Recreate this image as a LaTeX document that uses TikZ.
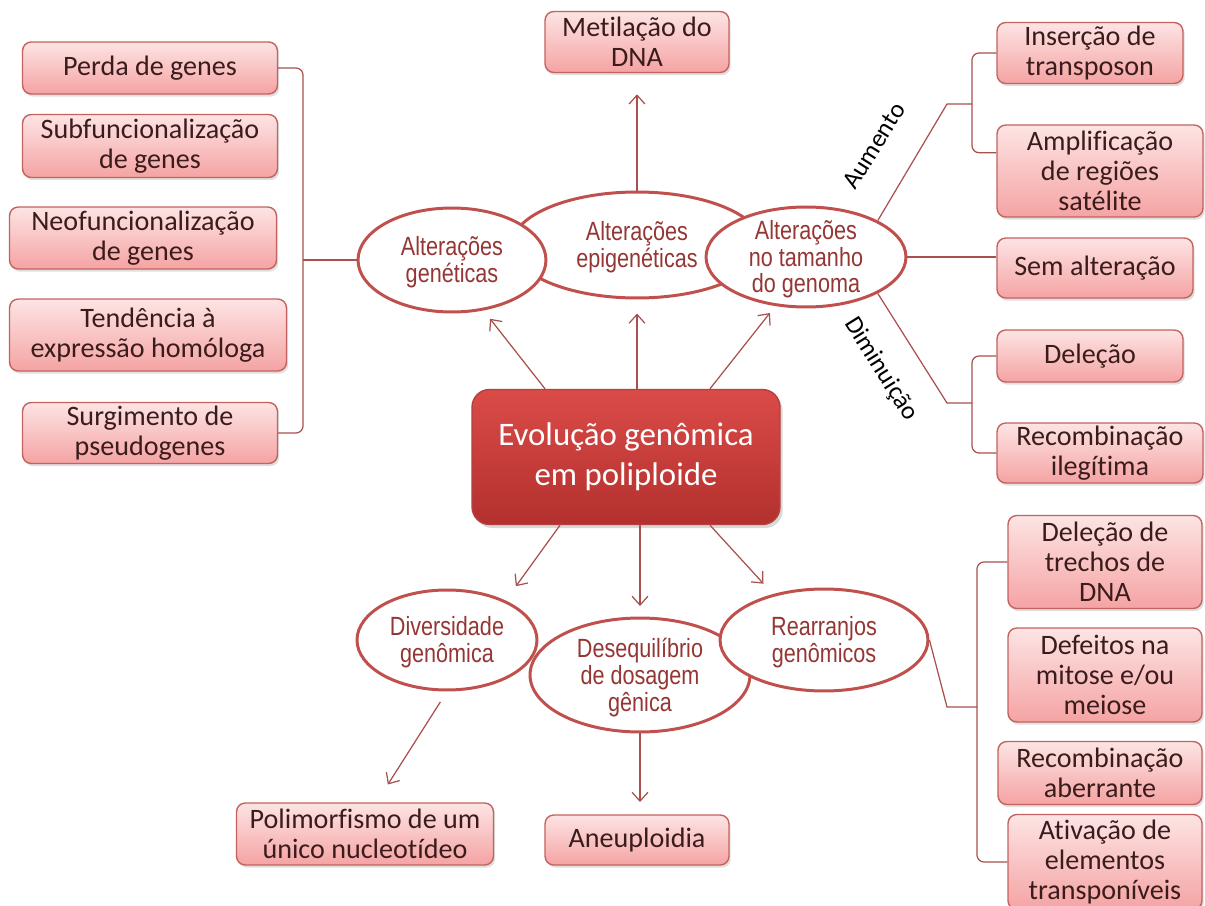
\documentclass[tikz,border=0pt]{standalone}
\usepackage{fontspec}
\setmainfont{Carlito}[Ligatures=NoCommon]
\newfontfamily\narrowfont[FakeStretch=0.82]{Liberation Sans}
\usetikzlibrary{arrows.meta, positioning, shapes.geometric, shadows}

\definecolor{caixaTopo}{HTML}{FDE4E4}
\definecolor{caixaBase}{HTML}{F5A3A3}
\definecolor{bordaCaixa}{HTML}{C4625F}
\definecolor{textoCaixa}{HTML}{3B1C1C}
\definecolor{bordaElipse}{HTML}{C0504D}
\definecolor{textoElipse}{HTML}{943634}
\definecolor{linha}{HTML}{A9504E}
\definecolor{nucleoTopo}{HTML}{DA4B48}
\definecolor{nucleoBase}{HTML}{B3302E}
\definecolor{bordaNucleo}{HTML}{B5403E}

\newcommand{\txtelipse}[1]{\raisebox{-5.5pt}[0pt][0pt]{\begin{tabular}{@{}c@{}}#1\end{tabular}}}

\begin{document}
\begin{tikzpicture}[x=0.02cm, y=-0.02cm,
  caixa/.style={draw=bordaCaixa, line width=0.8pt, rounded corners=5pt,
    top color=caixaTopo, bottom color=caixaBase, text=textoCaixa,
    align=center, inner sep=0pt, font=\fontsize{16}{17}\selectfont,
    drop shadow={opacity=0.25, shadow xshift=1pt, shadow yshift=-1.5pt}},
  nucleo/.style={draw=bordaNucleo, line width=0.8pt, rounded corners=10pt,
    top color=nucleoTopo, bottom color=nucleoBase, text=white,
    align=center, font=\fontsize{18.7}{23}\selectfont,
    drop shadow={opacity=0.3, shadow xshift=1.5pt, shadow yshift=-2pt}},
  elipse/.style={ellipse, draw=bordaElipse, line width=1.7pt, fill=white,
    inner sep=0pt, text=textoElipse, font=\narrowfont\fontsize{15}{14.5}\selectfont},
  conector/.style={draw=linha, line width=0.7pt},
  seta/.style={conector, -{Straight Barb[length=5pt, width=9pt]}},
  rotulo/.style={font=\fontsize{14.5}{16}\selectfont, text=black}]

\fill[white] (0,0) rectangle (1205,906);
\useasboundingbox (0,0) rectangle (1205,906);

% caixas da esquerda
\node[caixa, minimum width=5.1cm, minimum height=1.04cm] (perda) at (150,68) {Perda de genes};
\node[caixa, minimum width=5.1cm, minimum height=1.26cm] (subf) at (150,146) {Subfuncionalização\\de genes};
\node[caixa, minimum width=5.34cm, minimum height=1.24cm] (neof) at (143,238) {Neofuncionalização\\de genes};
\node[caixa, minimum width=5.54cm, minimum height=1.44cm] (tend) at (148,335) {Tendência à\\expressão homóloga};
\node[caixa, minimum width=5.1cm, minimum height=1.22cm] (surg) at (150,433) {Surgimento de\\pseudogenes};

% caixas da direita
\node[caixa, minimum width=3.72cm, minimum height=1.22cm] (ins) at (1090,53) {Inserção de\\transposon};
\node[caixa, minimum width=4.12cm, minimum height=1.84cm] (amp) at (1100,171) {Amplificação\\de regiões\\satélite};
\node[caixa, minimum width=3.92cm, minimum height=1.2cm] (sem) at (1095,268) {Sem alteração};
\node[caixa, minimum width=3.72cm, minimum height=1.04cm] (dele) at (1090,356) {Deleção};
\node[caixa, minimum width=4.12cm, minimum height=1.2cm] (recI) at (1100,453) {Recombinação\\ilegítima};
\node[caixa, minimum width=3.88cm, minimum height=1.86cm] (dtre) at (1105,562) {Deleção de\\trechos de\\DNA};
\node[caixa, minimum width=3.88cm, minimum height=1.88cm] (defe) at (1105,675) {Defeitos na\\mitose e/ou\\meiose};
\node[caixa, minimum width=4.08cm, minimum height=1.26cm] (recA) at (1100,773) {Recombinação\\aberrante};
\node[caixa, minimum width=3.88cm, minimum height=1.9cm] (ativ) at (1105,862) {Ativação de\\elementos\\transponíveis};

% caixas de cima e de baixo
\node[caixa, minimum width=3.68cm, minimum height=1.22cm] (metil) at (637,42) {Metilação do\\DNA};
\node[caixa, minimum width=5.14cm, minimum height=1.24cm] (poli) at (365,834) {Polimorfismo de um\\único nucleotídeo};
\node[caixa, minimum width=3.68cm, minimum height=1.0cm] (aneu) at (637,840) {Aneuploidia};

% centro
\node[nucleo, minimum width=6.16cm, minimum height=2.7cm] (evo) at (626,457) {Evolução genômica\\em poliploide};

% elipses
\node[elipse, minimum width=5cm, minimum height=2.12cm] (epi) at (637,245) {\txtelipse{Alterações\\epigenéticas}};
\node[elipse, minimum width=3.76cm, minimum height=2.08cm] (gen) at (452,260) {\txtelipse{Alterações\\genéticas}};
\node[elipse, minimum width=4cm, minimum height=2cm] (tam) at (806,257) {\txtelipse{Alterações\\no tamanho\\do genoma}};
\node[elipse, minimum width=3.6cm, minimum height=2cm] (div) at (447,640) {\txtelipse{Diversidade\\genômica}};
\node[elipse, minimum width=4.4cm, minimum height=2.28cm] (deseq) at (640,675) {\txtelipse{Desequilíbrio\\de dosagem\\gênica}};
\node[elipse, minimum width=4.16cm, minimum height=2.04cm] (rea) at (824,640) {\txtelipse{Rearranjos\\genômicos}};

% chaves
\coordinate (chaveG) at (303,260);
\draw[conector, rounded corners=4pt] (perda.east) -| (chaveG) |- (surg.east);
\draw[conector] (chaveG) -- (gen.west);

\coordinate (dobraA) at (947,104);
\coordinate (chaveA) at (972,104);
\draw[conector] (tam.north east) -- (dobraA) -- (chaveA);
\draw[conector, rounded corners=4pt] (ins.west) -| (chaveA) |- (amp.170);

\draw[conector] (tam.east) -- (tam.east -| sem.west);

\coordinate (dobraD) at (947,403);
\coordinate (chaveD) at (972,403);
\draw[conector] (tam.south east) -- (dobraD) -- (chaveD);
\draw[conector, rounded corners=4pt] (dele.west) -| (chaveD) |- (recI.west);

\coordinate (dobraR) at (947,707);
\coordinate (chaveR) at (977,707);
\draw[conector] (rea.east) -- (dobraR) -- (chaveR);
\draw[conector, rounded corners=4pt] (dtre.west) -| (chaveR) |- (ativ.west);

\node[rotulo, rotate=58] (aum) at (874,146) {Aumento};
\node[rotulo, rotate=-58] (dim) at (881,369) {Diminuição};

% setas
\draw[seta, shorten >=6pt] ([xshift=-1.62cm]evo.north) -- (gen.302);
\draw[seta, shorten >=8pt] (evo.north -| epi.south) -- (epi.south);
\draw[seta, shorten >=5pt] ([xshift=1.68cm]evo.north) -- (tam.238);
\draw[seta, shorten >=10pt] ([xshift=-1.32cm]evo.south) -- (div.34);
\draw[seta, shorten >=6pt] (evo.south -| deseq.north) -- (deseq.north);
\draw[seta, shorten >=8pt] ([xshift=1.68cm]evo.south) -- (rea.138);
\draw[seta, shorten >=12pt] (epi.north) -- (epi.north |- metil.south);
\draw[seta, shorten <=7pt, shorten >=12pt] (div.south) -- (poli.70);
\draw[seta, shorten >=7pt] (deseq.south) -- (deseq.south |- aneu.north);
\end{tikzpicture}
\end{document}
